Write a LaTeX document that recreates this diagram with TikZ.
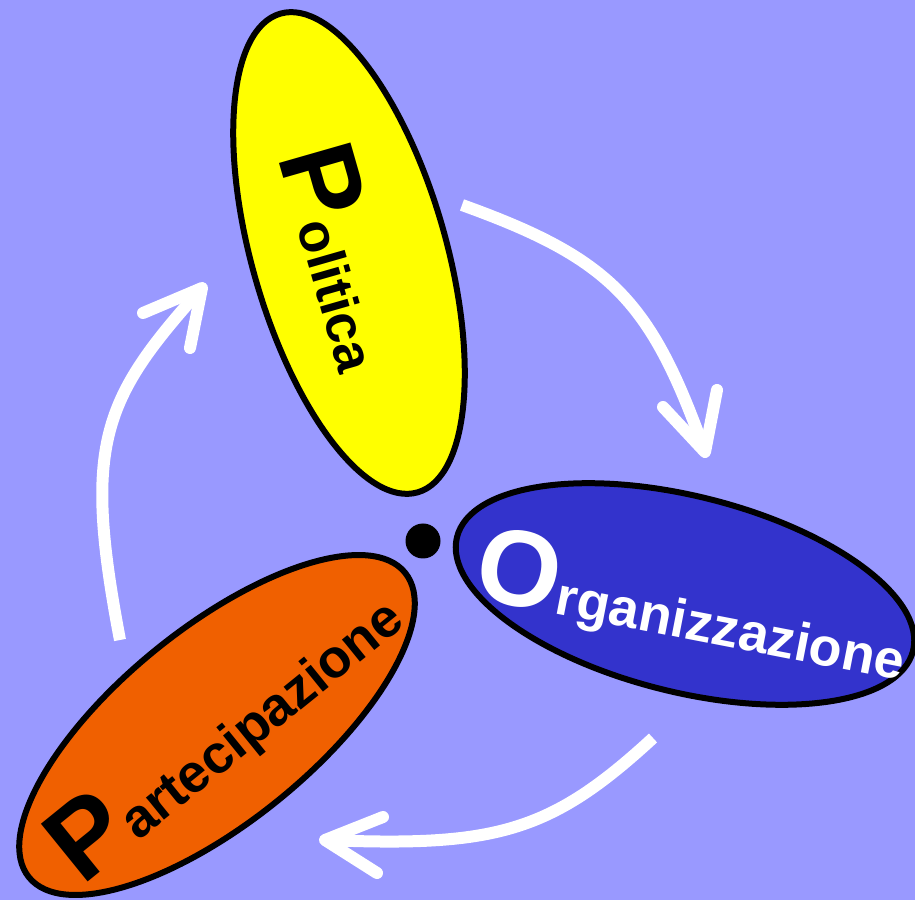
\documentclass[tikz,border=0pt]{standalone}
\usepackage{fontspec}
\setmainfont{Liberation Sans}
\usetikzlibrary{shapes.geometric}
\definecolor{bgblue}{HTML}{9999FF}
\definecolor{polyellow}{HTML}{FFFF00}
\definecolor{orgblue}{HTML}{3333CC}
\definecolor{parorange}{HTML}{F06000}
\newcommand{\bigL}[1]{{\fontsize{108}{108}\selectfont #1}}
\newcommand{\smallL}[1]{{\fontsize{54}{54}\selectfont #1}}
\begin{document}
\begin{tikzpicture}[x=1pt,y=1pt,
  blob/.style={ellipse, draw=black, line width=6pt, inner sep=0pt, outer sep=0pt},
  label/.style={anchor=base west, inner sep=0pt, font=\bfseries},
  flow/.style={draw=white, line width=12pt, line cap=butt},
  head/.style={draw=white, line width=12pt, line cap=round, line join=round}]
\fill[bgblue] (0,0) rectangle (915,900);
\useasboundingbox (0,0) rectangle (915,900);
% ellipses
\node[blob, fill=polyellow, minimum width=194pt, minimum height=498pt, rotate=16] (polE) at (349,647) {};
\node[blob, fill=orgblue, minimum width=470pt, minimum height=196pt, rotate=-14] (orgE) at (685,306) {};
\node[blob, fill=parorange, minimum width=484pt, minimum height=194pt, rotate=39] (parE) at (217,175) {};
% labels
\node[label, text=black, rotate=-74] (polT) at (277,744) {\bigL{P}\smallL{olitica}};
\node[label, text=white, rotate=-11] (orgT) at (471,303) {\bigL{O}\smallL{rganizzazione}};
\node[label, text=black, rotate=39] (parT) at (82,13) {\bigL{P}\smallL{artecipazione}};
% centre dot
\node[circle, fill=black, minimum size=35pt, inner sep=0pt] (dot) at (423,359) {};
% arrow 1
\coordinate (a1s) at (462,695);
\coordinate (a1t) at (705,448);
\coordinate (a1l) at (663,493);
\coordinate (a1r) at (717,510);
\draw[flow] (a1s) .. controls (612,641) and (651,599) .. (a1t);
\draw[head] (a1l) -- (a1t) -- (a1r);
% arrow 2
\coordinate (a2s) at (653,162);
\coordinate (a2t) at (325,60);
\coordinate (a2l) at (383,83);
\coordinate (a2r) at (377,27);
\draw[flow] (a2s) .. controls (550,67) and (495,53) .. (a2t);
\draw[head] (a2l) -- (a2t) -- (a2r);
% arrow 3
\coordinate (a3s) at (120,260);
\coordinate (a3t) at (202,612);
\coordinate (a3l) at (143,587);
\coordinate (a3r) at (190,552);
\draw[flow] (a3s) .. controls (82.6,456.4) and (101.8,500.4) .. (a3t);
\draw[head] (a3l) -- (a3t) -- (a3r);
\end{tikzpicture}
\end{document}
